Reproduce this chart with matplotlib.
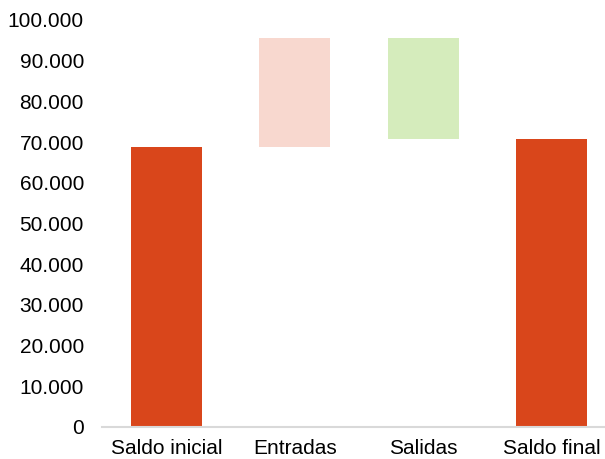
import matplotlib.pyplot as plt
from matplotlib.ticker import FuncFormatter, MultipleLocator

plt.rcParams['font.family'] = ['Liberation Sans', 'DejaVu Sans']

# cash flow waterfall
categorias = ['Saldo inicial', 'Entradas', 'Salidas', 'Saldo final']
saldo_inicial = 68700
entradas = 26900
salidas = 24900
saldo_final = saldo_inicial + entradas - salidas

alturas = [saldo_inicial, entradas, salidas, saldo_final]
bases = [0, saldo_inicial, saldo_inicial + entradas - salidas, 0]
colores = ['#D9461B', '#F8D8CF', '#D5ECBC', '#D9461B']

fig = plt.figure(figsize=(6.05, 4.59), dpi=100)
ax = fig.add_axes([102 / 605, 32 / 459, 503 / 605, 407 / 459])

x = range(len(categorias))
ax.bar(x, alturas, bottom=bases, width=0.55, color=colores)

ax.set_xlim(-0.5, 3.414)
ax.set_ylim(0, 100000)
ax.yaxis.set_major_locator(MultipleLocator(10000))
ax.yaxis.set_major_formatter(FuncFormatter(lambda v, p: f'{int(v):,}'.replace(',', '.')))
ax.set_xticks(list(x))
ax.set_xticklabels(categorias)

for s in ['top', 'right', 'left']:
    ax.spines[s].set_visible(False)
ax.spines['bottom'].set_color('#D9D9D9')
ax.spines['bottom'].set_linewidth(1.5)
ax.tick_params(axis='both', length=0, labelsize=15, colors='#000000')
ax.tick_params(axis='y', pad=13)
ax.tick_params(axis='x', pad=9)

fig.savefig('out.png', dpi=100)
